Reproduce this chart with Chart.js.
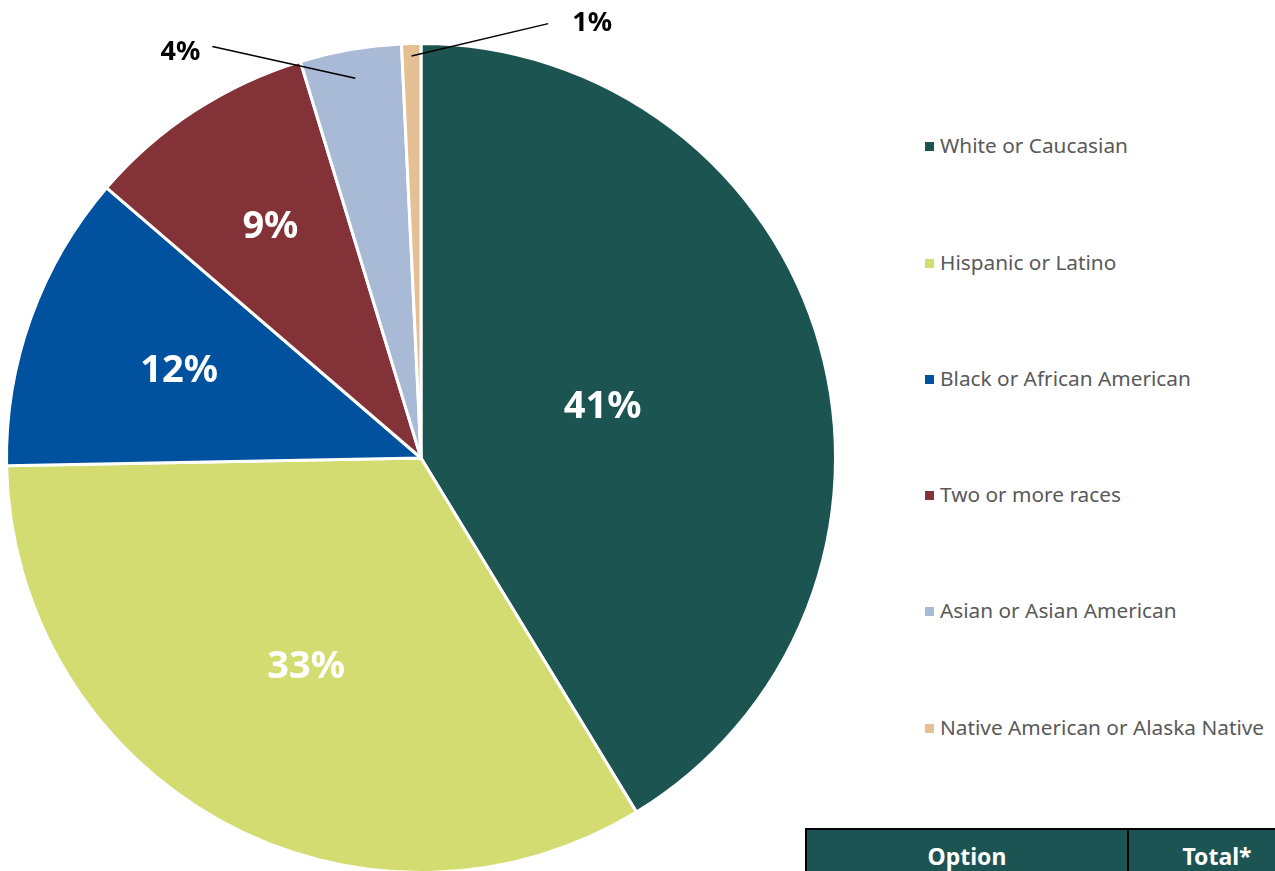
<!DOCTYPE html>
<html>
<head>
<meta charset="utf-8">
<script src="https://cdn.jsdelivr.net/npm/chart.js@4.4.1/dist/chart.umd.min.js"></script>
<style>
  html, body { margin: 0; padding: 0; background: #fff; overflow: hidden; }
  body { width: 1275px; height: 871px; position: relative; font-family: "Noto Sans", sans-serif; }
  #pieBox { position: absolute; left: 0; top: 0; width: 842px; height: 874px; }
  #legend { position: absolute; left: 925px; top: 0; }
  .lg-item { position: absolute; left: 0; white-space: nowrap; font-size: 20.8px; color: #595959; line-height: 24px; }
  .lg-item i { display: inline-block; width: 9px; height: 9px; margin-right: 6px; vertical-align: 2px; }
  table.opt { position: absolute; left: 805px; top: 828px; border-collapse: collapse; table-layout: fixed; width: 500px; }
  table.opt th { background: #1b5452; color: #fff; border: 2px solid #000; font-size: 23px; font-weight: 700;
                 height: 60px; padding: 11px 0 0 0; vertical-align: top; line-height: 30px; }
</style>
</head>
<body>
<div id="pieBox"><canvas id="pie"></canvas></div>
<div id="legend"></div>
<table class="opt"><tr><th style="width:320px">Option</th><th style="width:176px">Total*</th></tr></table>
<script>
// 응답자 인종 분포 (%)
const categories = [
  'White or Caucasian',
  'Hispanic or Latino',
  'Black or African American',
  'Two or more races',
  'Asian or Asian American',
  'Native American or Alaska Native'
];
const shares = [41.3, 33.4, 11.6, 9.0, 3.95, 0.75];
const colors = ['#1b5451', '#d3dc71', '#00529e', '#833237', '#a8bad5', '#e6c095'];

// 라벨 배치 (안쪽: 반지름 비율 / 바깥쪽: 지시선)
const LABEL_SPOTS = [
  { r: 0.455 },
  { r: 0.575 },
  { r: 0.62 },
  { r: 0.665 },
  { line: 0.93, tx: -170, ty: 3, ax: 32, ay: -6 },
  { line: 0.97, tx: 181, ty: -20, ax: -44, ay: 0 }
];
const LEGEND_Y = [145, 262, 378, 494, 610, 727];

const sliceLabels = {
  id: 'sliceLabels',
  afterDatasetsDraw(chart) {
    const ctx = chart.ctx;
    const meta = chart.getDatasetMeta(0);
    ctx.save();
    ctx.textAlign = 'center';
    ctx.textBaseline = 'middle';
    meta.data.forEach((arc, i) => {
      const p = arc.getProps(['x', 'y', 'startAngle', 'endAngle', 'outerRadius'], true);
      const mid = (p.startAngle + p.endAngle) / 2;
      const spot = LABEL_SPOTS[i];
      const text = Math.round(shares[i]) + '%';
      if (spot.r) {
        ctx.fillStyle = '#fff';
        ctx.font = 'bold 38px "Noto Sans"';
        ctx.fillText(text, p.x + Math.cos(mid) * p.outerRadius * spot.r,
                           p.y + Math.sin(mid) * p.outerRadius * spot.r);
      } else {
        const ex = p.x + Math.cos(mid) * p.outerRadius;
        const ey = p.y + Math.sin(mid) * p.outerRadius;
        const tx = ex + spot.tx, ty = ey + spot.ty;
        ctx.strokeStyle = '#000';
        ctx.lineWidth = 1.5;
        ctx.beginPath();
        ctx.moveTo(tx + spot.ax, ty + spot.ay);
        ctx.lineTo(p.x + Math.cos(mid) * p.outerRadius * spot.line,
                   p.y + Math.sin(mid) * p.outerRadius * spot.line);
        ctx.stroke();
        ctx.fillStyle = '#000';
        ctx.font = 'bold 27px "Noto Sans"';
        ctx.fillText(text, tx, ty);
      }
    });
    ctx.restore();
  }
};

const chart = new Chart(document.getElementById('pie'), {
  type: 'pie',
  data: {
    labels: categories,
    datasets: [{
      data: shares,
      backgroundColor: colors,
      borderColor: '#fff',
      borderWidth: 3
    }]
  },
  options: {
    responsive: true,
    maintainAspectRatio: false,
    animation: false,
    layout: { padding: { top: 42 } },
    plugins: {
      legend: { display: false },
      tooltip: { enabled: false }
    }
  },
  plugins: [sliceLabels]
});

// 범례
const legendEl = document.getElementById('legend');
categories.forEach((name, i) => {
  const item = document.createElement('div');
  item.className = 'lg-item';
  item.style.top = (LEGEND_Y[i] - 12) + 'px';
  item.innerHTML = '<i style="background:' + colors[i] + '"></i>' + name;
  legendEl.appendChild(item);
});
</script>
</body>
</html>
